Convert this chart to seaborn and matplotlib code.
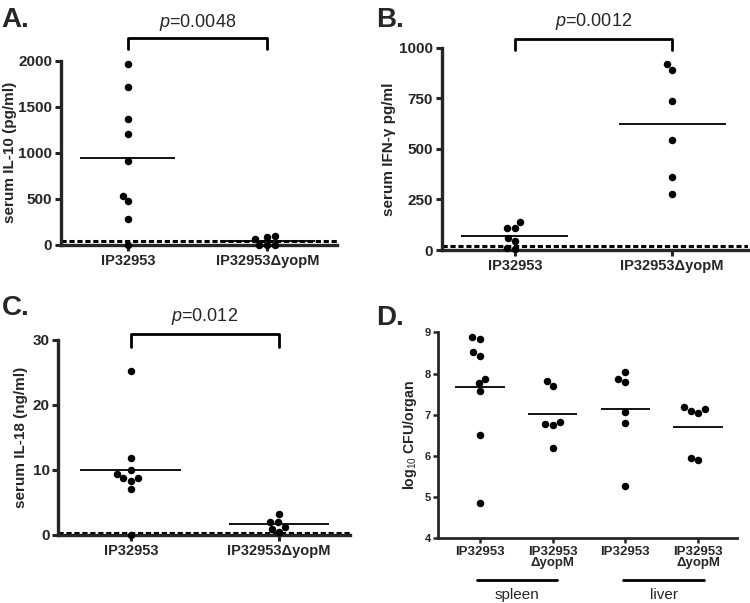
import numpy as np
import pandas as pd
import seaborn as sns
import matplotlib.pyplot as plt

# values
groups = ["IP32953", "IP32953ΔyopM"]

il10_wt = [1960, 1714, 1367, 1204, 908, 535, 474, 286, 0]
il10_yopm = [101, 87, 65, 0, 0, 0]
il10_means = [940, 40]
il10_limit = 45

ifng_wt = [140, 110, 110, 61, 43, 10, 5]
ifng_yopm = [918, 889, 738, 544, 359, 277]
ifng_means = [68, 623]
ifng_limit = 18

il18_wt = [25.2, 11.9, 10.0, 9.4, 8.7, 8.7, 8.3, 7.1, 0]
il18_yopm = [3.2, 2.05, 1.95, 1.3, 0.9, 0.5]
il18_means = [10.0, 1.65]
il18_limit = 0.25

cfu_groups = ["spleen_wt", "spleen_yopm", "liver_wt", "liver_yopm"]
cfu_ticklabels = ["IP32953", "IP32953\nΔyopM", "IP32953", "IP32953\nΔyopM"]
cfu_spleen_wt = [8.88, 8.84, 8.51, 8.43, 7.86, 7.76, 7.58, 6.51, 4.85]
cfu_spleen_yopm = [7.82, 7.70, 6.82, 6.78, 6.74, 6.18]
cfu_liver_wt = [8.03, 7.87, 7.80, 7.07, 6.81, 5.27]
cfu_liver_yopm = [7.18, 7.14, 7.09, 7.05, 5.94, 5.90]
cfu_means = [7.68, 7.01, 7.15, 6.71]


def long_df(names, series):
    rows = []
    for name, vals in zip(names, series):
        rows += [(name, v) for v in vals]
    return pd.DataFrame(rows, columns=["group", "value"])


def dot_panel(ax, names, series, means, dot=5.4, half=0.34, spine=2.4):
    df = long_df(names, series)
    sns.swarmplot(data=df, x="group", y="value", order=names, color="black",
                  size=dot, ax=ax, linewidth=0)
    for c in ax.collections:
        c.set_clip_on(False)
    ax.hlines(means, np.arange(len(names)) - half, np.arange(len(names)) + half,
              color="black", lw=1.3, zorder=3)
    ax.set_xlabel("")
    for side in ["top", "right"]:
        ax.spines[side].set_visible(False)
    for side in ["left", "bottom"]:
        ax.spines[side].set_linewidth(spine)
    ax.tick_params(width=spine - 0.2, length=4.3, pad=2)
    ax.tick_params(axis="x", labelsize=10.5)
    ax.tick_params(axis="y", labelsize=11)


def bracket(ax, top, arm, text_y, label):
    tr = ax.get_xaxis_transform()
    ax.plot([0, 0, 1, 1], [arm, top, top, arm], color="black", lw=2,
            transform=tr, clip_on=False)
    ax.text(0.5, text_y, label, transform=tr, ha="center", va="center",
            fontsize=13)


def bold_ticks(ax):
    for lab in ax.get_xticklabels() + ax.get_yticklabels():
        lab.set_fontweight("bold")


sns.set_style("ticks")
plt.rcParams["font.family"] = ["Liberation Sans", "DejaVu Sans"]
plt.rcParams["mathtext.fontset"] = "custom"
plt.rcParams["mathtext.rm"] = "Liberation Sans"
plt.rcParams["mathtext.it"] = "Liberation Sans:italic"
plt.rcParams["mathtext.bf"] = "Liberation Sans:bold"

fig = plt.figure(figsize=(7.5, 6.03), dpi=100)
axA = fig.add_axes([0.0813, 0.5937, 0.368, 0.3056])
axB = fig.add_axes([0.589, 0.5854, 0.408, 0.3355])
axC = fig.add_axes([0.0777, 0.1128, 0.389, 0.3234])
axD = fig.add_axes([0.5844, 0.1073, 0.398, 0.3416])

dash = (0, (1.7, 0.9))

# A
dot_panel(axA, groups, [il10_wt, il10_yopm], il10_means)
axA.axhline(il10_limit, color="black", lw=2.2, ls=dash)
axA.set_ylim(0, 2000)
axA.set_yticks([0, 500, 1000, 1500, 2000])
axA.set_xlim(-0.48, 1.5)
axA.set_ylabel("serum IL-10 (pg/ml)", fontsize=11, fontweight="bold", labelpad=1)
bracket(axA, 1.123, 1.063, 1.205, "$\\it{p}$=0.0048")
bold_ticks(axA)

# B
dot_panel(axB, groups, [ifng_wt, ifng_yopm], ifng_means)
axB.axhline(ifng_limit, color="black", lw=2.2, ls=dash)
axB.set_ylim(0, 1000)
axB.set_yticks([0, 250, 500, 750, 1000])
axB.set_xlim(-0.465, 1.48)
axB.set_ylabel("serum IFN-γ pg/ml", fontsize=11, fontweight="bold", labelpad=2)
bracket(axB, 1.043, 0.987, 1.129, "$\\it{p}$=0.0012")
bold_ticks(axB)

# C
dot_panel(axC, groups, [il18_wt, il18_yopm], il18_means)
axC.axhline(il18_limit, color="black", lw=2.2, ls=dash)
axC.set_ylim(0, 30)
axC.set_yticks([0, 10, 20, 30])
axC.set_xlim(-0.49, 1.48)
axC.set_ylabel("serum IL-18 (ng/ml)", fontsize=11, fontweight="bold", labelpad=3)
bracket(axC, 1.029, 0.964, 1.119, "$\\it{p}$=0.012")
bold_ticks(axC)

# D
dot_panel(axD, cfu_groups, [cfu_spleen_wt, cfu_spleen_yopm, cfu_liver_wt, cfu_liver_yopm],
          cfu_means, spine=2.0)
axD.set_ylim(4, 9)
axD.set_yticks([4, 5, 6, 7, 8, 9])
axD.set_xlim(-0.57, 3.53)
axD.set_xticks(range(4))
axD.set_xticklabels(cfu_ticklabels, fontsize=9.5, linespacing=0.95)
axD.tick_params(axis="y", labelsize=8)
axD.tick_params(length=3.5)
axD.set_ylabel("log$_{10}$ CFU/organ", fontsize=10.2, fontweight="bold")
bold_ticks(axD)
trD = axD.get_xaxis_transform()
for (x0, x1), organ in zip([(-0.045, 1.055), (1.97, 3.08)], ["spleen", "liver"]):
    axD.plot([x0, x1], [-0.202, -0.202], color="black", lw=2, transform=trD, clip_on=False)
    axD.text((x0 + x1) / 2, -0.275, organ, transform=trD, ha="center", va="center",
             fontsize=11)

for label, x, y in [("A.", 0.002, 0.9557), ("B.", 0.502, 0.9557),
                    ("C.", 0.002, 0.4776), ("D.", 0.502, 0.461)]:
    fig.text(x, y, label, fontsize=20, fontweight="bold", va="baseline")

fig.savefig("out.png", dpi=100)
